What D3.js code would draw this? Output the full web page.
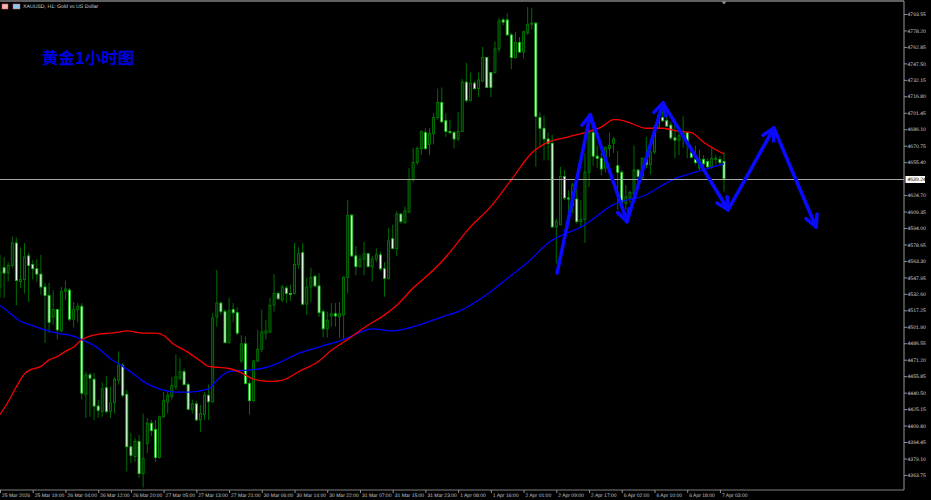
<!DOCTYPE html>
<html>
<head>
<meta charset="utf-8">
<script src="https://cdn.jsdelivr.net/npm/d3@7"></script>
<style>
html,body{margin:0;padding:0;background:#000;overflow:hidden}
svg{display:block}
text{font-family:"Liberation Sans","DejaVu Sans",sans-serif;text-rendering:geometricPrecision}
</style>
</head>
<body>
<svg id="c" width="931" height="500"></svg>
<script>
const opens=[4539,4557,4552,4559,4580,4544,4546,4568,4560,4556,4551,4539,4531,4511,4518,4498,4535,4536,4509,4518,4521,4439,4457,4453,4428,4423,4445,4423,4431,4452,4466,4439,4390,4381,4395,4365,4393,4412,4406,4380,4418,4432,4437,4446,4454,4460,4448,4425,4430,4415,4420,4438,4432,4511,4524,4516,4487,4518,4515,4470,4486,4449,4433,4470,4481,4496,4497,4522,4533,4527,4538,4533,4533,4560,4571,4523,4539,4549,4540,4516,4500,4512,4514,4511,4513,4548,4606,4568,4558,4565,4570,4558,4565,4569,4556,4547,4584,4575,4607,4599,4609,4639,4655,4668,4683,4672,4682,4697,4711,4694,4684,4683,4677,4684,4730,4713,4729,4724,4731,4753,4739,4739,4761,4788,4788,4774,4753,4767,4758,4776,4784,4785,4697,4687,4677,4673,4595,4597,4642,4622,4615,4621,4600,4602,4646,4683,4661,4659,4650,4668,4673,4652,4646,4617,4622,4626,4648,4641,4659,4653,4665,4688,4697,4694,4690,4678,4676,4679,4683,4664,4658,4650,4658,4656,4651,4658,4658,4656];
const highs=[4569,4567,4562,4586,4585,4576,4580,4571,4564,4565,4569,4543,4543,4536,4518,4539,4545,4538,4525,4524,4524,4460,4459,4459,4434,4450,4456,4446,4455,4479,4468,4443,4403,4398,4401,4421,4417,4415,4415,4419,4441,4441,4455,4476,4473,4463,4450,4434,4433,4429,4441,4448,4515,4555,4525,4518,4529,4524,4520,4494,4493,4452,4471,4499,4518,4508,4529,4551,4535,4541,4540,4541,4580,4576,4580,4548,4557,4550,4552,4518,4516,4524,4524,4525,4549,4620,4607,4577,4569,4581,4571,4568,4575,4572,4562,4594,4597,4610,4608,4614,4650,4669,4670,4685,4687,4687,4701,4724,4725,4701,4695,4684,4702,4733,4748,4739,4731,4739,4763,4753,4739,4768,4790,4790,4794,4776,4777,4772,4778,4800,4799,4786,4702,4699,4683,4681,4603,4651,4648,4629,4636,4631,4620,4664,4687,4685,4671,4664,4670,4683,4679,4666,4648,4634,4629,4671,4649,4660,4679,4671,4690,4702,4706,4701,4693,4692,4683,4698,4684,4671,4671,4667,4662,4659,4669,4662,4661,4665];
const lows=[4529,4529,4544,4557,4522,4538,4533,4525,4546,4544,4532,4487,4496,4504,4490,4497,4527,4507,4501,4506,4434,4417,4418,4415,4417,4418,4421,4417,4421,4448,4436,4367,4375,4376,4361,4352,4384,4400,4376,4379,4417,4421,4434,4443,4452,4447,4424,4421,4414,4404,4415,4415,4431,4502,4513,4487,4487,4506,4494,4468,4448,4420,4432,4469,4478,4490,4496,4516,4527,4525,4524,4526,4532,4556,4522,4513,4525,4539,4511,4492,4492,4502,4502,4492,4490,4533,4567,4550,4557,4550,4557,4544,4562,4554,4530,4546,4574,4568,4598,4598,4608,4637,4653,4662,4667,4662,4672,4695,4692,4679,4681,4668,4675,4684,4711,4712,4723,4716,4730,4725,4716,4738,4758,4783,4774,4742,4752,4758,4752,4774,4779,4651,4670,4657,4657,4594,4561,4597,4620,4608,4608,4598,4594,4580,4632,4652,4650,4643,4646,4660,4664,4611,4611,4611,4617,4620,4629,4640,4650,4644,4663,4687,4693,4688,4676,4659,4662,4669,4659,4659,4653,4648,4648,4650,4649,4653,4652,4628];
const closes=[4553,4552,4559,4580,4545,4546,4567,4559,4556,4551,4539,4531,4506,4518,4499,4535,4537,4509,4518,4521,4440,4457,4454,4428,4424,4444,4423,4431,4453,4466,4438,4390,4382,4395,4365,4379,4412,4405,4380,4418,4433,4438,4447,4455,4460,4448,4425,4430,4415,4421,4438,4432,4510,4524,4516,4487,4517,4515,4496,4486,4449,4433,4470,4481,4497,4498,4522,4533,4528,4539,4533,4532,4560,4570,4523,4539,4548,4540,4515,4500,4508,4514,4512,4514,4548,4606,4568,4558,4565,4570,4558,4565,4569,4556,4547,4582,4575,4607,4600,4610,4639,4655,4668,4684,4668,4682,4697,4711,4693,4684,4683,4677,4684,4730,4713,4729,4724,4732,4753,4725,4725,4761,4787,4786,4774,4753,4767,4758,4777,4784,4785,4698,4687,4677,4673,4595,4600,4642,4622,4621,4634,4600,4602,4646,4683,4661,4659,4649,4669,4671,4677,4646,4618,4623,4627,4648,4642,4659,4653,4665,4688,4699,4694,4689,4678,4676,4680,4684,4674,4660,4655,4658,4654,4651,4659,4659,4655,4640];

const redBars=[0,2,4,6,7,10,12,14,16,18,20,24,27,29,31,35,38,40,42,46,49,51,56,59,62,66,69,73,78,81,85,89,94,97,101,106,109,115,120,125,130,134,139,143,147,150,151,154,158,162,166,169,172,177];
const redValues=[4420,4432,4446,4458,4461,4465,4471,4474,4479,4483,4490,4495,4496,4497,4498,4496,4496,4494,4487,4478,4470,4465,4463,4459,4453,4451,4452,4460,4470,4480,4490,4501,4513,4522,4538,4555,4567,4595,4614,4639,4664,4674,4679,4683,4688,4695,4695,4692,4687,4687,4684,4683,4674,4663];
const blueBars=[0,2,5,8,11,14,17,20,24,27,30,33,35,39,43,46,51,53,56,59,64,68,73,78,84,89,91,96,102,108,112,119,124,129,134,143,150,158,162,165,170,177];
const blueValues=[4522,4516,4507,4503,4499,4496,4494,4490,4482,4472,4465,4457,4451,4444,4441,4441,4444,4452,4460,4461,4463,4468,4477,4483,4490,4498,4500,4498,4503,4511,4516,4532,4547,4562,4580,4597,4616,4625,4634,4640,4646,4654];

const waveBars=[136.2,144.3,153.3,162.1,178,189.2,199.5];
const wavePrices=[4552,4699.4,4600,4710.5,4611,4687.2,4595];

const priceTicks=[4793.55,4778.20,4762.85,4747.50,4732.15,4716.80,4701.45,4686.10,4670.75,4655.40,4624.70,4609.35,4594.00,4578.65,4563.30,4547.95,4532.60,4517.25,4501.90,4486.55,4471.20,4455.85,4440.50,4425.15,4409.80,4394.45,4379.10,4363.75];
const lastPrice=4639.24;
const timeLabels=["25 Mar 2026","25 Mar 19:00","26 Mar 04:00","26 Mar 12:00","26 Mar 20:00","27 Mar 05:00","27 Mar 13:00","27 Mar 21:00","30 Mar 06:00","30 Mar 14:00","30 Mar 22:00","31 Mar 07:00","31 Mar 15:00","31 Mar 23:00","1 Apr 08:00","1 Apr 16:00","2 Apr 01:00","2 Apr 09:00","2 Apr 17:00","6 Apr 02:00","6 Apr 10:00","6 Apr 18:00","7 Apr 03:00"];
const timeBars=timeLabels.map((_,i)=>i*8);
const symbolTitle="XAUUSD, H1:  Gold vs US Dollar";
const chartTitle="黄金1小时图";

const svg=d3.select("#c");
svg.append("rect").attr("width",931).attr("height",500).attr("fill","#000");
const plotR=904,plotB=490;
const x=d3.scaleLinear().domain([0,221]).range([0,plotR]);
const y=d3.scaleLinear().domain([4806.6,4349.7]).range([0,plotB]);
const WICK="#006e00",UP="#007a00",DOWN="#10b810";

const candles=opens.map((o,i)=>({i,o,h:highs[i],l:lows[i],c:closes[i]}));
const g=svg.append("g");
g.selectAll("line.w").data(candles).join("line").attr("class","w")
 .attr("x1",d=>x(d.i)).attr("x2",d=>x(d.i))
 .attr("y1",d=>y(d.h)).attr("y2",d=>y(d.l))
 .attr("stroke",WICK).attr("stroke-width",1);
g.selectAll("rect.b").data(candles).join("rect").attr("class","b")
 .attr("x",d=>x(d.i)-1).attr("width",2)
 .attr("y",d=>y(Math.max(d.o,d.c)))
 .attr("height",d=>Math.max(0.6,Math.abs(y(d.o)-y(d.c))))
 .attr("fill",d=>d.c<d.o?"#fff":"#002000")
 .attr("stroke",d=>d.c<d.o?DOWN:UP).attr("stroke-width",0.9);

const line=d3.line().x(d=>x(d[0])).y(d=>y(d[1])).curve(d3.curveMonotoneX);
svg.append("path").attr("d",line(d3.zip(blueBars,blueValues))).attr("fill","none").attr("stroke","#0000ff").attr("stroke-width",1.3);
svg.append("path").attr("d",line(d3.zip(redBars,redValues))).attr("fill","none").attr("stroke","#f80000").attr("stroke-width",1.3);

svg.append("line").attr("x1",0).attr("x2",plotR).attr("y1",y(lastPrice)).attr("y2",y(lastPrice)).attr("stroke","#a8a8a8").attr("stroke-width",1.1);

const arrows=svg.append("g").attr("stroke","#0a0aff").attr("stroke-width",3.6).attr("stroke-linecap","round").attr("fill","none");
d3.pairs(d3.zip(waveBars,wavePrices)).forEach(([a,b])=>{
  const x1=x(a[0]),y1=y(a[1]),x2=x(b[0]),y2=y(b[1]);
  const ang=Math.atan2(y2-y1,x2-x1),L=13,s=0.48;
  arrows.append("line").attr("x1",x1).attr("y1",y1).attr("x2",x2).attr("y2",y2);
  [ang+Math.PI-s,ang+Math.PI+s].forEach(t=>{
    arrows.append("line").attr("x1",x2).attr("y1",y2).attr("x2",x2+L*Math.cos(t)).attr("y2",y2+L*Math.sin(t));
  });
});

svg.append("line").attr("x1",0).attr("x2",plotR).attr("y1",1).attr("y2",1).attr("stroke","#808080").attr("stroke-width",1.4);
const ay=svg.append("g").attr("transform",`translate(${plotR},0)`).call(d3.axisRight(y).tickValues(priceTicks).tickFormat(d3.format(".2f")).tickSize(3).tickPadding(0.5));
ay.select(".domain").attr("stroke","#808080").attr("stroke-width",1.2).attr("d",`M0,1V${plotB}`);
ay.selectAll(".tick line").attr("stroke","#909090");
ay.selectAll("text").attr("fill","#c8c8c8").attr("font-size",5.1).attr("font-family","Liberation Sans");

const ax=svg.append("g").attr("transform",`translate(0,${plotB})`).call(d3.axisBottom(x).tickValues(timeBars).tickFormat((d,i)=>timeLabels[i]).tickSize(3).tickPadding(0));
ax.select(".domain").attr("stroke","#808080").attr("stroke-width",1.2).attr("d",`M0,0H${plotR}`);
ax.selectAll(".tick line").attr("stroke","#909090");
ax.selectAll("text").attr("fill","#c8c8c8").attr("font-size",5).attr("font-family","Liberation Sans").attr("text-anchor","start").attr("dx",1.5).attr("y",3);

svg.append("rect").attr("x",905.5).attr("y",y(lastPrice)-3.5).attr("width",19.5).attr("height",7).attr("fill","#fff");
svg.append("text").attr("x",907.4).attr("y",y(lastPrice)+1.8).attr("fill","#000").attr("font-size",5.1).text(lastPrice.toFixed(2));

svg.append("path").attr("d",`M${x(177)-2.5},1.5h5l-2.5,3z`).attr("fill","#909090");

svg.append("rect").attr("x",2).attr("y",4).attr("width",6).attr("height",5).attr("fill","#f4b4b4").attr("stroke","#e06060").attr("stroke-width",.5);
svg.append("rect").attr("x",13).attr("y",4).attr("width",7).attr("height",5).attr("fill","#8cc8f0").attr("stroke","#e06060").attr("stroke-width",.5);
svg.append("text").attr("x",23).attr("y",8).attr("fill","#c8c8c8").attr("font-size",5.2).text(symbolTitle);
svg.append("text").attr("x",42).attr("y",64).attr("fill","#0000e6").attr("font-size",16.5).attr("font-weight","700")
  .style("font-family",'"Noto Sans CJK SC",sans-serif').text(chartTitle);
</script>
</body>
</html>
